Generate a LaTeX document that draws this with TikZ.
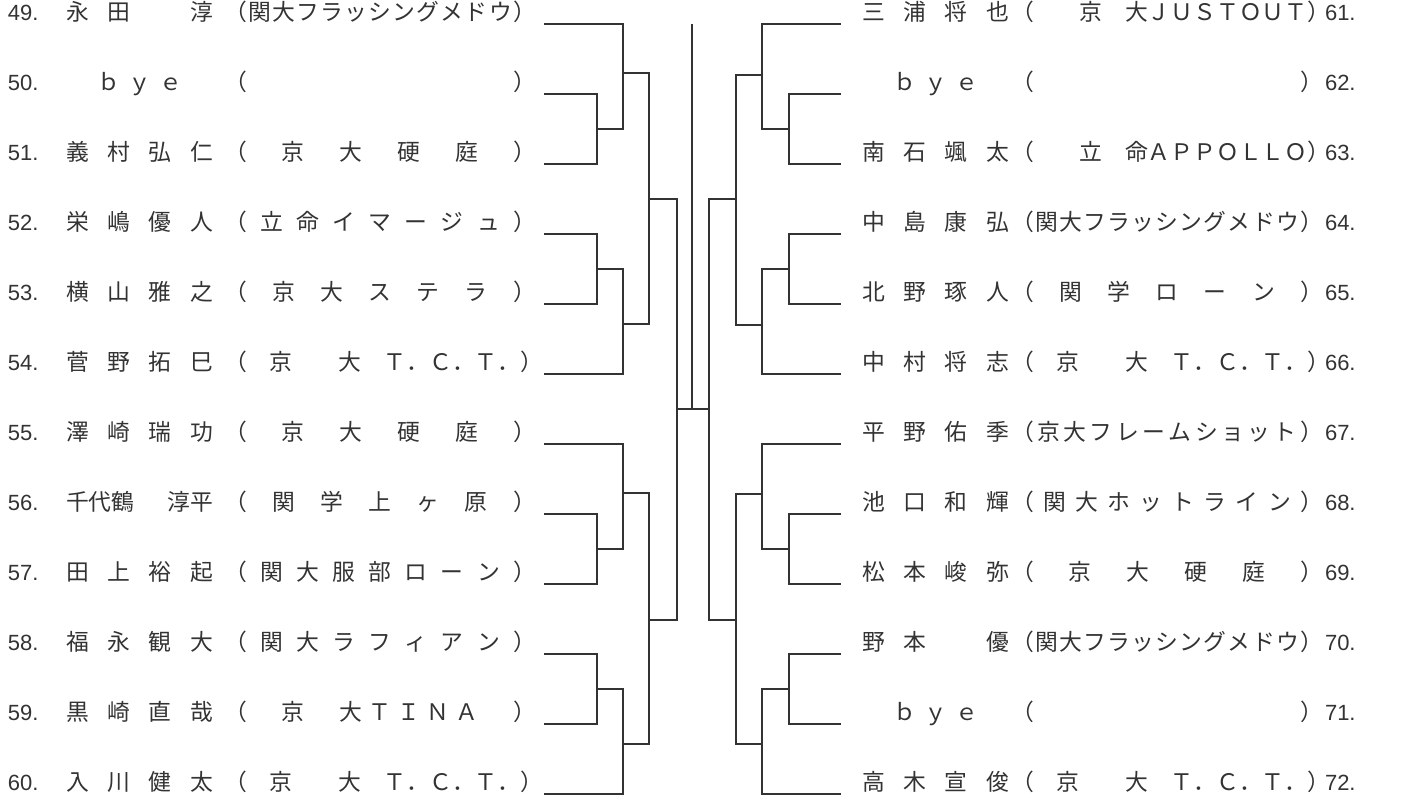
\documentclass[tikz,border=0pt]{standalone}
\usepackage{fontspec}
\newfontfamily\jpfont{Noto Sans CJK JP}
\newfontfamily\numfont{Liberation Sans}
\usetikzlibrary{positioning}
\definecolor{inkline}{HTML}{333333}
% spread the tokens of #2 evenly over a box of width #1
\def\spreadend{\spreadend}
\def\spreadeat#1{}
\def\spreadgo#1#2{#1\ifx\spreadend#2\expandafter\spreadeat\else\hfill\expandafter\spreadgo\fi{#2}}
\newcommand\spreadbox[2]{\hbox to #1{\expandafter\spreadgo#2\spreadend}}
\tikzset{
  tb line/.style={line width=0.85pt, draw=inkline},
  tb num/.style={anchor=base west, inner sep=0pt, outer sep=0pt, text=inkline,
                 font=\numfont\fontsize{11}{11}\selectfont},
  tb name/.style={anchor=base west, inner sep=0pt, outer sep=0pt, text=inkline,
                  font=\jpfont\fontsize{11.4}{11.4}\selectfont},
  tb club/.style={tb name},
}

\begin{document}
\begin{tikzpicture}[x=0.5pt, y=-0.5pt]
  \useasboundingbox (0,0) rectangle (1402,804);
  % left half
  \foreach \i/\nm/\cl in {49/永田　淳/（関大フラッシングメドウ）,
      50/　ｂｙｅ　/（）,
      51/義村弘仁/（京大硬庭）,
      52/栄嶋優人/（立命イマージュ）,
      53/横山雅之/（京大ステラ）,
      54/菅野拓巳/（　京　　大　Ｔ．Ｃ．Ｔ．）,
      55/澤崎瑞功/（京大硬庭）,
      56/{千代鶴}{淳平}/（関学上ヶ原）,
      57/田上裕起/（関大服部ローン）,
      58/福永観大/（関大ラフィアン）,
      59/黒崎直哉/（　京　大ＴＩＮＡ　）,
      60/入川健太/（　京　　大　Ｔ．Ｃ．Ｔ．）} {
    \node[tb num] (n\i) at (8,{20.5+70*(\i-49)}) {\i.};
    \node[tb name] (a\i) at (66,{20.5+70*(\i-49)}) {\spreadbox{73.5pt}{\nm}};
    \node[tb club] (c\i) at (224,{20.5+70*(\i-49)}) {\spreadbox{156pt}{\cl}};
    \coordinate (p\i) at (544,{24+70*(\i-49)});
  }
  % right half
  \foreach \i/\nm/\cl in {61/三浦将也/（　　京　大ＪＵＳＴＯＵＴ）,
      62/　ｂｙｅ　/（）,
      63/南石颯太/（　　立　命ＡＰＰＯＬＬＯ）,
      64/中島康弘/（関大フラッシングメドウ）,
      65/北野琢人/（関学ローン）,
      66/中村将志/（　京　　大　Ｔ．Ｃ．Ｔ．）,
      67/平野佑季/（京大フレームショット）,
      68/池口和輝/（関大ホットライン）,
      69/松本峻弥/（京大硬庭）,
      70/野本　優/（関大フラッシングメドウ）,
      71/　ｂｙｅ　/（）,
      72/高木宣俊/（　京　　大　Ｔ．Ｃ．Ｔ．）} {
    \node[tb name] (a\i) at (862,{20.5+70*(\i-61)}) {\spreadbox{73.5pt}{\nm}};
    \node[tb club] (c\i) at (1011,{20.5+70*(\i-61)}) {\spreadbox{156pt}{\cl}};
    \node[tb num] (n\i) at (1325,{20.5+70*(\i-61)}) {\i.};
    \coordinate (p\i) at (841,{24+70*(\i-61)});
  }

  % match points, left
  \coordinate (mA) at (597,129);
  \coordinate (mB) at (623,73);
  \coordinate (mC) at (597,269);
  \coordinate (mD) at (623,324);
  \coordinate (mE) at (649,199);
  \coordinate (mF) at (597,549);
  \coordinate (mG) at (623,493);
  \coordinate (mH) at (597,689);
  \coordinate (mI) at (623,744);
  \coordinate (mJ) at (649,620);
  \coordinate (mK) at (677,409);
  % match points, right
  \coordinate (rA) at (789,129);
  \coordinate (rB) at (762,75);
  \coordinate (rC) at (789,269);
  \coordinate (rD) at (762,325);
  \coordinate (rE) at (736,199);
  \coordinate (rF) at (789,549);
  \coordinate (rG) at (762,494);
  \coordinate (rH) at (789,689);
  \coordinate (rI) at (762,744);
  \coordinate (rJ) at (736,620);
  \coordinate (rK) at (709,409);
  \coordinate (top) at (692,24);
  \coordinate (ctr) at (692,409);

  \foreach \u/\m/\v in {p50/mA/p51, p49/mB/mA, p52/mC/p53, mC/mD/p54, mB/mE/mD,
      p56/mF/p57, p55/mG/mF, p58/mH/p59, mH/mI/p60, mG/mJ/mI, mE/mK/mJ,
      p62/rA/p63, p61/rB/rA, p64/rC/p65, rC/rD/p66, rB/rE/rD,
      p68/rF/p69, p67/rG/rF, p70/rH/p71, rH/rI/p72, rG/rJ/rI, rE/rK/rJ}
    \draw[tb line] (\u) -| (\m) |- (\v);
  \draw[tb line] (mK) -- (rK);
  \draw[tb line] (top) -- (ctr);
\end{tikzpicture}
\end{document}
